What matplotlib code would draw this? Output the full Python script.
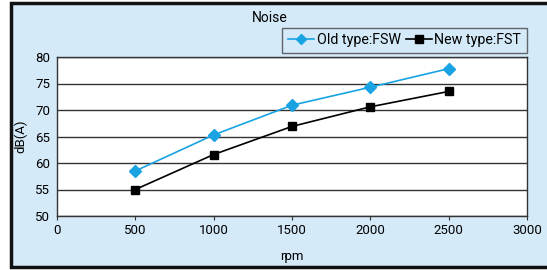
import matplotlib.pyplot as plt
from matplotlib.patches import Rectangle

rpm = [500, 1000, 1500, 2000, 2500]
old_fsw = [58.5, 65.3, 70.9, 74.3, 77.8]
new_fst = [55.0, 61.6, 66.9, 70.6, 73.5]
x_ticks = [0, 500, 1000, 1500, 2000, 2500, 3000]
y_ticks = [50, 55, 60, 65, 70, 75, 80]

bg = '#d4eaf9'
plt.rcParams['font.family'] = ['Roboto', 'DejaVu Sans']

fig = plt.figure(figsize=(5.47, 2.70), dpi=100)
fig.patch.set_facecolor('white')
# light blue panel with black frame
fig.patches.append(Rectangle((10.5 / 547, 3 / 270), 545 / 547, 264 / 270,
                             transform=fig.transFigure, facecolor=bg,
                             edgecolor='#111111', linewidth=2.5, zorder=-10))

ax = fig.add_axes([57 / 547, 54 / 270, 470 / 547, 159 / 270])
ax.set_zorder(1)
ax.set_facecolor('white')
ax.set_xlim(0, 3000)
ax.set_ylim(50, 80)
ax.set_xticks(x_ticks)
ax.set_yticks(y_ticks)
ax.tick_params(labelsize=9.5, color='#333333')
ax.tick_params(axis='x', length=3, width=0.8, pad=3)
ax.tick_params(axis='y', length=0, pad=5)
for s in ax.spines.values():
    s.set_color('#333333')
    s.set_linewidth(1)
ax.yaxis.grid(True, color='#333333', linewidth=1)
ax.set_axisbelow(True)

ax.plot(rpm, old_fsw, color='#19a3e3', marker='D', markersize=6, linewidth=1.2,
        label='Old type:FSW', zorder=3)
ax.plot(rpm, new_fst, color='black', marker='s', markersize=6, linewidth=1.2,
        label='New type:FST', zorder=3)

ax.set_xlabel('rpm', fontsize=9.5)
ax.xaxis.set_label_coords(0.5, -0.215)
ax.set_ylabel('dB(A)', fontsize=9.5)
ax.yaxis.set_label_coords(-0.064, 0.5)
fig.text(270 / 547, 1 - 18 / 270, 'Noise', ha='center', va='center', fontsize=10)

leg = ax.legend(loc='lower right', bbox_to_anchor=(1.0, 1.025), ncol=2,
                frameon=True, fancybox=False, fontsize=10.3, handlelength=1.8,
                handletextpad=0.2, columnspacing=0.35, borderpad=0.4,
                borderaxespad=0, markerscale=0.85)
leg.get_frame().set_facecolor(bg)
leg.get_frame().set_edgecolor('#444444')
leg.get_frame().set_linewidth(1)

fig.savefig('out.png', dpi=100, facecolor=fig.get_facecolor())
plt.close(fig)
